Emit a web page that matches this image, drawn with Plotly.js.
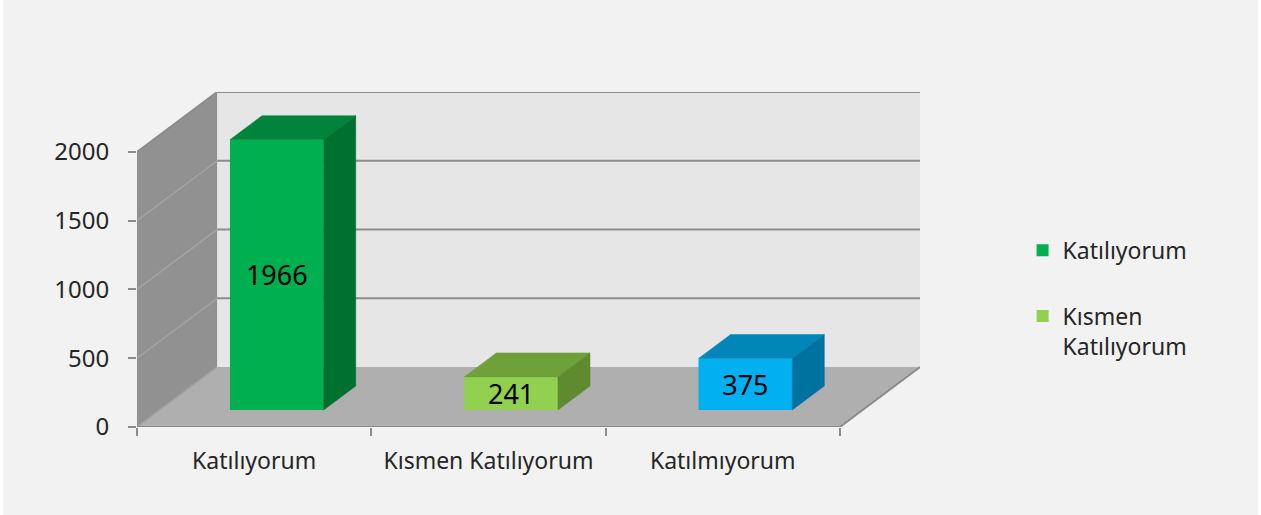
<!DOCTYPE html>
<html>
<head>
<meta charset="utf-8">
<script src="https://cdn.plot.ly/plotly-3.0.1.min.js"></script>
<style>
  html, body { margin: 0; padding: 0; background: #ffffff; }
  #chart { position: absolute; left: 3px; top: 0; width: 1255px; height: 515px; }
</style>
</head>
<body>
<div id="chart"></div>
<script>
// ---- data ----
const categories = ['Katılıyorum', 'Kısmen Katılıyorum', 'Katılmıyorum'];
const values = [1966, 241, 375];
const legendNames = ['Katılıyorum', 'Kısmen<br>Katılıyorum', 'Katılmıyorum'];
const yTickValues = [0, 500, 1000, 1500, 2000];
const yMax = 2000;

// ---- styles ----
const frontColors = ['#00b050', '#92d050', '#00b0f0'];
const topColors   = ['#00843c', '#70a03a', '#0086b8'];
const sideColors  = ['#00702f', '#5f8a30', '#0072a0'];
const FONT = 'Noto Sans, DejaVu Sans, sans-serif';
const TEXT_COLOR = '#262626';

// ---- pseudo-3D geometry (axis units) ----
const DEPTH_X = 0.342;   // wall depth along x, in category units
const DEPTH_Y = 436;     // wall depth along y, in value units
const BAR_FRONT = 0.283; // fraction of depth where bar front face sits
const BAR_DEPTH = 0.40;  // fraction of depth the bar occupies
const BAR_W = 0.40;      // bar width, category units
const nCat = categories.length;

const traces = [];
const faceTraces = [];
values.forEach((v, i) => {
  const cx = i + 0.5 + BAR_FRONT * DEPTH_X;
  const b = BAR_FRONT * DEPTH_Y;
  const sx = BAR_DEPTH * DEPTH_X, sy = BAR_DEPTH * DEPTH_Y;
  const xl = cx - BAR_W / 2, xr = cx + BAR_W / 2;
  traces.push({
    type: 'bar', x: [cx], y: [v], base: [b], width: [BAR_W],
    name: legendNames[i], legendgroup: 'g' + i, showlegend: i < 2,
    marker: { color: frontColors[i], line: { width: 0 } },
    text: [String(v)], textposition: 'inside', insidetextanchor: 'middle',
    constraintext: 'none', textangle: 0,
    textfont: { family: FONT, size: 27, color: '#000000' },
    hoverinfo: 'skip', cliponaxis: false
  });
  // top face
  faceTraces.push({
    type: 'scatter', mode: 'lines', fill: 'toself', fillcolor: topColors[i],
    x: [xl, xr, xr + sx, xl + sx, xl],
    y: [b + v, b + v, b + v + sy, b + v + sy, b + v],
    line: { width: 0.5, color: topColors[i] }, showlegend: false, hoverinfo: 'skip'
  });
  // side face
  faceTraces.push({
    type: 'scatter', mode: 'lines', fill: 'toself', fillcolor: sideColors[i],
    x: [xr, xr, xr + sx, xr + sx, xr],
    y: [b, b + v, b + v + sy, b + sy, b],
    line: { width: 0.5, color: sideColors[i] }, showlegend: false, hoverinfo: 'skip'
  });
});

// ---- walls, floor and gridlines ----
const shapes = [];
const L = 'below';
// back wall
shapes.push({ type: 'rect', layer: L, xref: 'x', yref: 'y',
  x0: DEPTH_X, x1: nCat + DEPTH_X, y0: DEPTH_Y, y1: yMax + DEPTH_Y,
  fillcolor: '#e6e6e6', line: { width: 0 } });
// side wall
shapes.push({ type: 'path', layer: L, xref: 'x', yref: 'y',
  path: `M0,0 L0,${yMax} L${DEPTH_X},${yMax + DEPTH_Y} L${DEPTH_X},${DEPTH_Y} Z`,
  fillcolor: '#919191', line: { width: 0 } });
// floor
shapes.push({ type: 'path', layer: L, xref: 'x', yref: 'y',
  path: `M0,0 L${nCat},0 L${nCat + DEPTH_X},${DEPTH_Y} L${DEPTH_X},${DEPTH_Y} Z`,
  fillcolor: '#afafaf', line: { width: 0 } });
// gridlines
yTickValues.forEach(t => {
  if (t > 0) {
    shapes.push({ type: 'line', layer: L, xref: 'x', yref: 'y',
      x0: DEPTH_X, x1: nCat + DEPTH_X, y0: t + DEPTH_Y, y1: t + DEPTH_Y,
      line: { color: '#8c8c8c', width: 2 } });
  }
  if (t < yMax) {
    shapes.push({ type: 'line', layer: L, xref: 'x', yref: 'y',
      x0: 0, x1: DEPTH_X, y0: t, y1: t + DEPTH_Y,
      line: { color: '#a3a3a3', width: 1.5 } });
  }
});
// edges
shapes.push({ type: 'path', layer: L, xref: 'x', yref: 'y',
  path: `M0,0 L0,${yMax} L${DEPTH_X},${yMax + DEPTH_Y}`,
  line: { color: '#8c8c8c', width: 2 } });
shapes.push({ type: 'path', layer: L, xref: 'x', yref: 'y',
  path: `M0,0 L${nCat},0 L${nCat + DEPTH_X},${DEPTH_Y}`,
  line: { color: '#8c8c8c', width: 2 } });

const layout = {
  width: 1255, height: 515,
  margin: { l: 134, r: 338, t: 92, b: 88 },
  paper_bgcolor: '#f2f2f2', plot_bgcolor: 'rgba(0,0,0,0)',
  barmode: 'overlay', hovermode: false, showlegend: true,
  font: { family: FONT, color: TEXT_COLOR },
  xaxis: {
    range: [0, nCat + DEPTH_X], showgrid: false, zeroline: false, showline: false,
    tickmode: 'array', tickvals: categories.map((c, i) => i + 0.5), ticktext: categories,
    ticks: '', ticklabelstandoff: 18,
    tickfont: { family: FONT, size: 23, color: TEXT_COLOR },
    minor: { tickmode: 'array', tickvals: categories.map((c, i) => i).concat([nCat]),
      ticks: 'outside', ticklen: 8, tickwidth: 2, tickcolor: '#8c8c8c', showgrid: false },
    fixedrange: true
  },
  yaxis: {
    range: [0, yMax + DEPTH_Y], showgrid: false, zeroline: false, showline: false,
    tickmode: 'array', tickvals: yTickValues, ticktext: yTickValues.map(String),
    ticks: 'outside', ticklen: 8, tickwidth: 2, tickcolor: '#8c8c8c',
    ticklabelstandoff: 14,
    tickfont: { family: FONT, size: 24, color: TEXT_COLOR },
    fixedrange: true
  },
  legend: {
    x: 1.131, xanchor: 'left', y: 0.592, yanchor: 'top',
    bgcolor: 'rgba(0,0,0,0)', font: { family: FONT, size: 23, color: TEXT_COLOR },
    tracegroupgap: 33, valign: 'top', traceorder: 'grouped'
  },
  shapes: shapes
};

Plotly.newPlot('chart', traces.concat(faceTraces), layout, { displayModeBar: false, staticPlot: true });
</script>
</body>
</html>
